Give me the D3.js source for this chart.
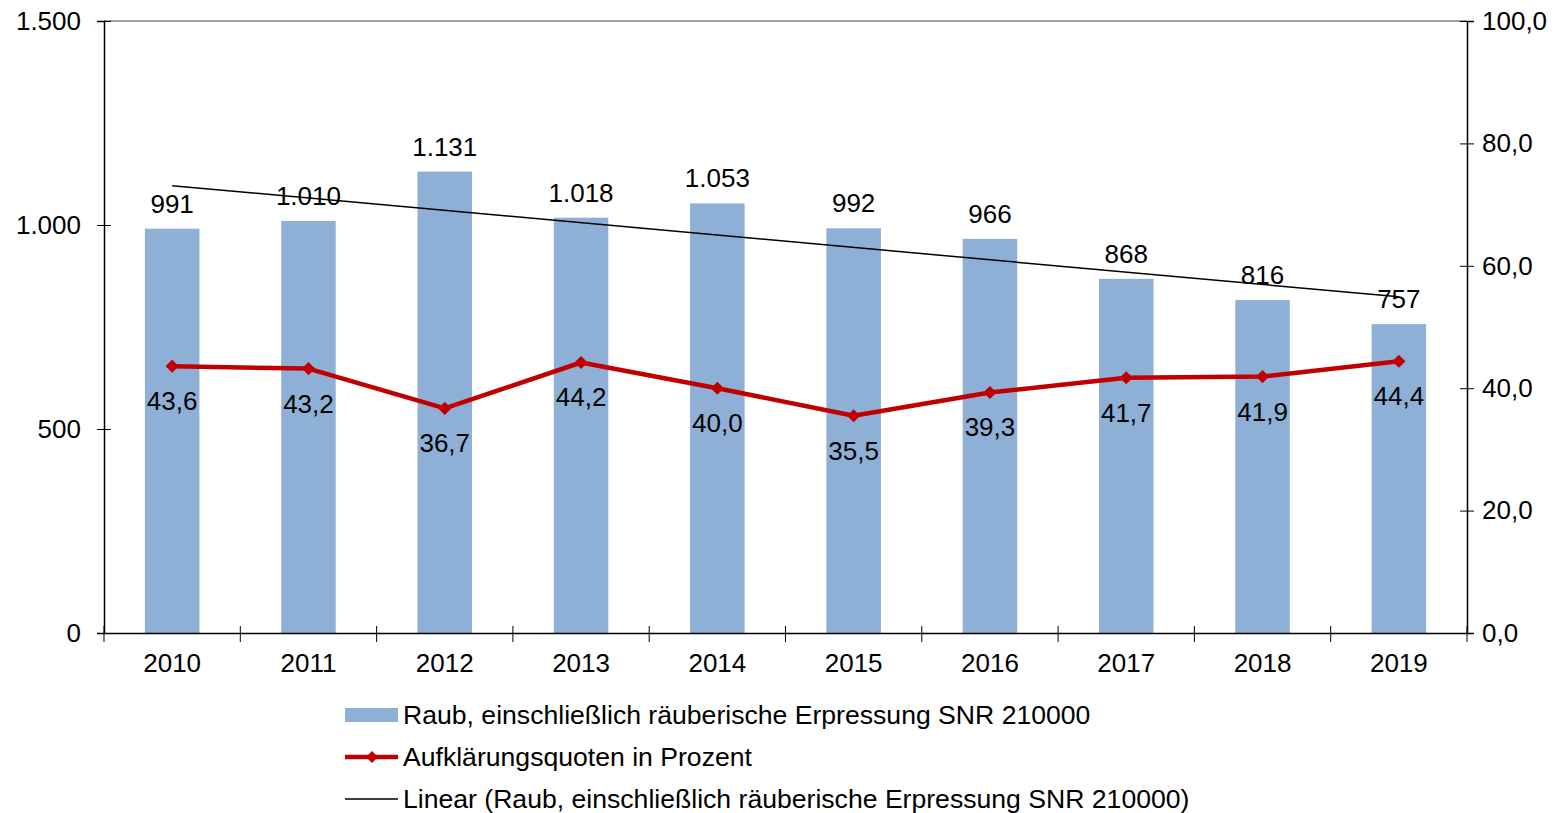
<!DOCTYPE html>
<html>
<head>
<meta charset="utf-8">
<script src="https://cdn.jsdelivr.net/npm/d3@7"></script>
<style>
  body { margin: 0; background: #fff; }
  svg text { font-family: "Liberation Sans", Arial, sans-serif; fill: #000; }
</style>
</head>
<body>
<div id="chart"></div>
<script>
const years = ["2010", "2011", "2012", "2013", "2014", "2015", "2016", "2017", "2018", "2019"];
const cases = [991, 1010, 1131, 1018, 1053, 992, 966, 868, 816, 757];
const quotes = [43.6, 43.2, 36.7, 44.2, 40.0, 35.5, 39.3, 41.7, 41.9, 44.4];
const leftTicks = [0, 500, 1000, 1500];
const rightTicks = [0, 20, 40, 60, 80, 100];
const legendLabels = [
  "Raub, einschließlich räuberische Erpressung SNR 210000",
  "Aufklärungsquoten in Prozent",
  "Linear (Raub, einschließlich räuberische Erpressung SNR 210000)"
];

const width = 1567, height = 813;
const margin = { top: 21, right: 100, bottom: 180, left: 104 };
const plotW = width - margin.left - margin.right;
const plotH = height - margin.top - margin.bottom;
const fs = "26px";
const font = "Liberation Sans, Arial, sans-serif";

const svg = d3.select("#chart").append("svg")
  .attr("width", width).attr("height", height);
const g = svg.append("g").attr("transform", `translate(${margin.left},${margin.top})`);

const x = d3.scaleBand().domain(years).range([0, plotW]);
const yL = d3.scaleLinear().domain([0, 1500]).range([plotH, 0]);
const yR = d3.scaleLinear().domain([0, 100]).range([plotH, 0]);

const fmtInt = v => v >= 1000 ? d3.format(",")(v).replace(",", ".") : String(v);
const fmtDec = v => v.toFixed(1).replace(".", ",");

// top frame line
g.append("line").attr("x1", 0).attr("x2", plotW).attr("y1", 0).attr("y2", 0)
  .attr("stroke", "#808080").attr("stroke-width", 1.5);

// bars
const barW = x.bandwidth() * 0.4;
g.selectAll("rect.bar").data(cases).join("rect")
  .attr("x", (d, i) => x(years[i]) + (x.bandwidth() - barW) / 2)
  .attr("y", d => yL(d))
  .attr("width", barW)
  .attr("height", d => plotH - yL(d))
  .attr("fill", "#8EB0D6");

// linear trend (least squares on the bar values)
const n = cases.length;
const mx = d3.mean(cases, (d, i) => i), my = d3.mean(cases);
const slope = d3.sum(cases, (d, i) => (i - mx) * (d - my)) / d3.sum(cases, (d, i) => (i - mx) ** 2);
const icpt = my - slope * mx;
const cx = i => x(years[i]) + x.bandwidth() / 2;
g.append("line")
  .attr("x1", cx(0)).attr("y1", yL(icpt))
  .attr("x2", cx(n - 1)).attr("y2", yL(icpt + slope * (n - 1)))
  .attr("stroke", "#000").attr("stroke-width", 1.5);

// bar labels
g.selectAll("text.bl").data(cases).join("text")
  .attr("x", (d, i) => cx(i))
  .attr("y", d => yL(d) - 16)
  .attr("text-anchor", "middle")
  .style("font-size", fs)
  .text(fmtInt);

// red line
const line = d3.line().x((d, i) => cx(i)).y(d => yR(d));
g.append("path").datum(quotes)
  .attr("d", line).attr("fill", "none")
  .attr("stroke", "#C00000").attr("stroke-width", 4.5)
  .attr("stroke-linejoin", "round");
g.selectAll("path.mk").data(quotes).join("path")
  .attr("d", d3.symbol(d3.symbolDiamond2, 110))
  .attr("transform", (d, i) => `translate(${cx(i)},${yR(d)})`)
  .attr("fill", "#C00000");
g.selectAll("text.ql").data(quotes).join("text")
  .attr("x", (d, i) => cx(i))
  .attr("y", d => yR(d) + 44)
  .attr("text-anchor", "middle")
  .style("font-size", fs)
  .text(fmtDec);

// axes
const axL = g.append("g").call(d3.axisLeft(yL).tickValues(leftTicks).tickSize(7).tickFormat(fmtInt));
axL.select(".domain").attr("stroke", "#000").attr("stroke-width", 1.5);
axL.selectAll(".tick line").attr("x2", 7).attr("x1", -7).attr("stroke", "#000");
axL.selectAll(".tick text").attr("x", -23).style("font-size", fs).style("font-family", font);

const axR = g.append("g").attr("transform", `translate(${plotW},0)`)
  .call(d3.axisRight(yR).tickValues(rightTicks).tickSize(7).tickFormat(fmtDec));
axR.select(".domain").attr("stroke", "#000").attr("stroke-width", 1.5);
axR.selectAll(".tick line").attr("x1", -7).attr("x2", 7).attr("stroke", "#000");
axR.selectAll(".tick text").attr("x", 15).style("font-size", fs).style("font-family", font);

const axB = g.append("g").attr("transform", `translate(0,${plotH})`)
  .call(d3.axisBottom(x).tickSize(0));
axB.select(".domain").attr("stroke", "#000").attr("stroke-width", 1.5);
axB.selectAll(".tick text").attr("y", 21).style("font-size", fs).style("font-family", font);
// category boundary ticks
g.selectAll("line.bt").data(d3.range(years.length + 1)).join("line")
  .attr("x1", i => i * x.step()).attr("x2", i => i * x.step())
  .attr("y1", plotH - 7).attr("y2", plotH + 9)
  .attr("stroke", "#000");

// legend
const lg = svg.append("g").attr("transform", "translate(345,0)");
const rowsY = [715, 757, 799];
lg.append("rect").attr("x", 0).attr("y", rowsY[0] - 7).attr("width", 53).attr("height", 14).attr("fill", "#8EB0D6");
lg.append("line").attr("x1", 0).attr("x2", 53).attr("y1", rowsY[1]).attr("y2", rowsY[1])
  .attr("stroke", "#C00000").attr("stroke-width", 4.5);
lg.append("path").attr("d", d3.symbol(d3.symbolDiamond2, 90))
  .attr("transform", `translate(27,${rowsY[1]})`).attr("fill", "#C00000");
lg.append("line").attr("x1", 0).attr("x2", 53).attr("y1", rowsY[2]).attr("y2", rowsY[2])
  .attr("stroke", "#000").attr("stroke-width", 1.5);
lg.selectAll("text").data(legendLabels).join("text")
  .attr("x", 58).attr("y", (d, i) => rowsY[i])
  .attr("dy", "0.35em")
  .style("font-size", "26.6px")
  .text(d => d);
</script>
</body>
</html>
